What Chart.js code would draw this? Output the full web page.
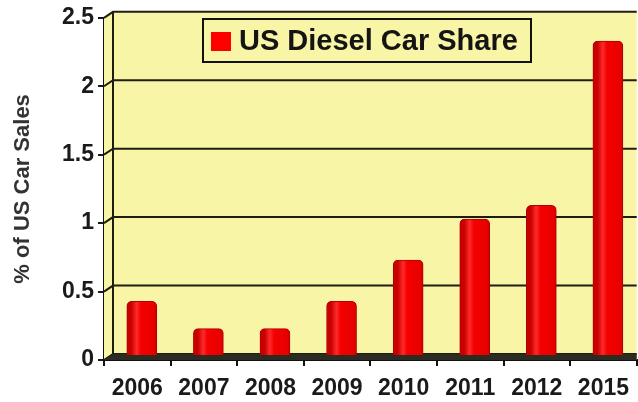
<!DOCTYPE html>
<html>
<head>
<meta charset="utf-8">
<script src="https://cdn.jsdelivr.net/npm/chart.js@4/dist/chart.umd.min.js"></script>
<style>
  html, body { margin: 0; padding: 0; background: #fff; }
  #wrap { width: 638px; height: 402px; }
</style>
</head>
<body>
<div id="wrap"><canvas id="myBarChart" width="638" height="402"></canvas></div>
<script>
const anos = ['2006', '2007', '2008', '2009', '2010', '2011', '2012', '2015'];
const participacao = [0.4, 0.2, 0.2, 0.4, 0.7, 1.0, 1.1, 2.3];
const marcasY = [0, 0.5, 1, 1.5, 2, 2.5];
const legendaTexto = 'US Diesel Car Share';
const tituloY = '% of US Car Sales';

const FONTE = '"Liberation Sans", Arial, sans-serif';
const AMARELO = '#f8f5a6';
const PROF_X = 9;   // profundidade do efeito 3D
const PROF_Y = 6;

// parede de fundo amarela, grade deslocada (3D), piso escuro e legenda
const fundo3D = {
    id: 'fundo3D',
    beforeDatasetsDraw(chart) {
        const { ctx, chartArea: a, scales } = chart;
        const y = scales.y;
        ctx.save();
        // parede lateral + fundo
        ctx.fillStyle = AMARELO;
        ctx.beginPath();
        ctx.moveTo(a.left, a.bottom);
        ctx.lineTo(a.left, a.top);
        ctx.lineTo(a.left + PROF_X, a.top - PROF_Y);
        ctx.lineTo(a.right, a.top - PROF_Y);
        ctx.lineTo(a.right, a.bottom);
        ctx.closePath();
        ctx.fill();

        // linhas de grade na parede de fundo
        ctx.strokeStyle = '#1e1e10';
        ctx.lineWidth = 2;
        marcasY.forEach(v => {
            const py = y.getPixelForValue(v);
            ctx.beginPath();
            ctx.moveTo(a.left, py);
            ctx.lineTo(a.left + PROF_X, py - PROF_Y);
            ctx.lineTo(a.right, py - PROF_Y);
            ctx.stroke();
        });
        // aresta esquerda da parede
        ctx.beginPath();
        ctx.moveTo(a.left + PROF_X, a.top - PROF_Y);
        ctx.lineTo(a.left + PROF_X, a.bottom - PROF_Y);
        ctx.stroke();

        // piso
        ctx.fillStyle = '#2b2b22';
        ctx.beginPath();
        ctx.moveTo(a.left, a.bottom);
        ctx.lineTo(a.left + PROF_X, a.bottom - PROF_Y);
        ctx.lineTo(a.right, a.bottom - PROF_Y);
        ctx.lineTo(a.right, a.bottom);
        ctx.closePath();
        ctx.fill();

        // barras ficam no meio da profundidade
        ctx.translate(PROF_X / 2, -4);
    },
    afterDatasetsDraw(chart) {
        chart.ctx.restore();
    },
    afterDraw(chart) {
        const { ctx } = chart;
        ctx.save();
        const x = 203, y = 19, w = 328, h = 43;
        ctx.fillStyle = AMARELO;
        ctx.fillRect(x, y, w, h);
        ctx.lineWidth = 2;
        ctx.strokeStyle = '#111';
        ctx.strokeRect(x, y, w, h);
        ctx.fillStyle = '#ff0000';
        ctx.fillRect(x + 8, y + 13, 20, 19);
        ctx.fillStyle = '#141414';
        ctx.font = 'bold 29px ' + FONTE;
        ctx.textBaseline = 'middle';
        ctx.fillText(legendaTexto, x + 36, y + h / 2 + 1);
        ctx.restore();
    }
};

function corBarra(c) {
    const chart = c.chart;
    const xs = chart.scales.x;
    if (!xs || c.dataIndex === undefined) return '#f00000';
    const cx = xs.getPixelForValue(c.dataIndex) + PROF_X / 2;
    if (!isFinite(cx)) return '#f00000';
    const g = chart.ctx.createLinearGradient(cx - 15, 0, cx + 15, 0);
    g.addColorStop(0, '#c80000');
    g.addColorStop(0.18, '#ff2a2a');
    g.addColorStop(0.32, '#f40000');
    g.addColorStop(0.75, '#e80000');
    g.addColorStop(1, '#a80000');
    return g;
}

const ctx = document.getElementById('myBarChart').getContext('2d');

const config = {
    type: 'bar',
    data: {
        labels: anos,
        datasets: [
            {
                label: legendaTexto,
                data: participacao,
                backgroundColor: corBarra,
                borderColor: '#b00000',
                borderWidth: 1,
                borderSkipped: 'bottom',
                borderRadius: { topLeft: 5, topRight: 5 },
                barThickness: 30
            }
        ]
    },
    options: {
        responsive: false,
        animation: false,
        layout: {
            padding: { top: 15, right: 0, left: 0, bottom: 0 }
        },
        scales: {
            x: {
                afterFit: s => { s.height = 42; },
                grid: {
                    drawOnChartArea: false,
                    drawTicks: true,
                    tickLength: 6,
                    color: '#111',
                    lineWidth: 2
                },
                border: { color: '#111', width: 2 },
                ticks: {
                    color: '#1a1a1a',
                    font: { family: FONTE, size: 23, weight: 'bold' },
                    padding: 9,
                    maxRotation: 0,
                    autoSkip: false
                }
            },
            y: {
                min: 0,
                max: 2.5,
                afterFit: s => { s.width = 104; },
                ticks: {
                    stepSize: 0.5,
                    color: '#1a1a1a',
                    font: { family: FONTE, size: 23, weight: 'bold' },
                    padding: 4,
                    callback: v => String(v)
                },
                grid: {
                    drawOnChartArea: false,
                    color: '#1a1a1a',
                    lineWidth: 2,
                    tickLength: 6
                },
                border: { color: '#111', width: 2 },
                title: {
                    display: true,
                    text: tituloY,
                    color: '#333',
                    font: { family: FONTE, size: 22, weight: 'bold' },
                    padding: { top: 10, bottom: 0 }
                }
            }
        },
        plugins: {
            legend: { display: false },
            tooltip: { enabled: false }
        }
    },
    plugins: [fundo3D]
};

new Chart(ctx, config);
</script>
</body>
</html>
